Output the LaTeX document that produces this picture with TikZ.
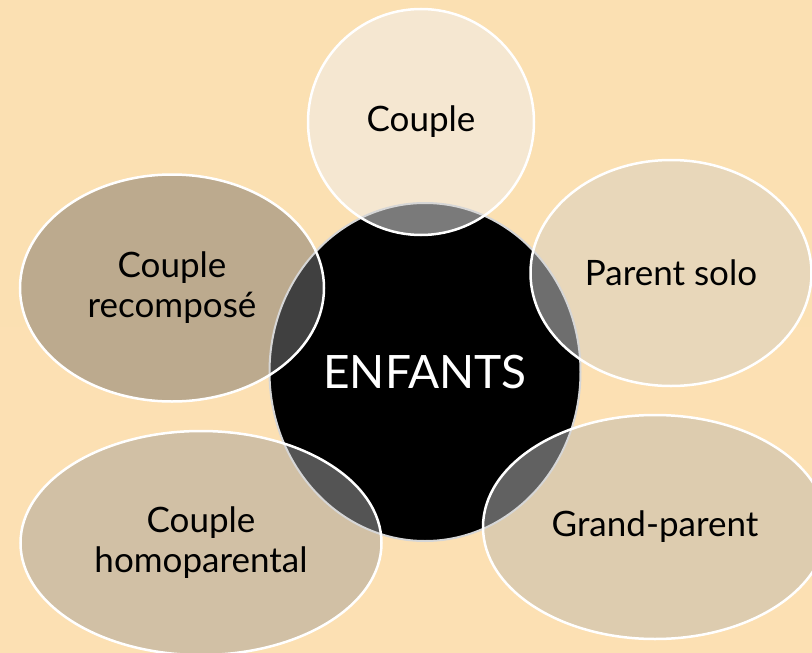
\documentclass[tikz,border=0pt]{standalone}
\usepackage{fontspec}
\setmainfont{Lato}
\usetikzlibrary{shapes.geometric}

\definecolor{bgtop}{HTML}{FBE0B2}
\definecolor{bgmid}{HTML}{F9D69B}
\definecolor{bgbot}{HTML}{FCE0B3}
\definecolor{couplefill}{HTML}{F5E7D1}
\definecolor{solofill}{HTML}{E8D7BA}
\definecolor{grandfill}{HTML}{DDCCAF}
\definecolor{recompfill}{HTML}{BCAA8E}
\definecolor{homofill}{HTML}{D1C0A5}

\tikzset{
  petal/.style={ellipse, inner sep=0pt, align=center, text=black,
                font=\fontsize{35}{40}\selectfont},
  rim/.style={draw=white, line width=2.5pt},
  core rim/.style={draw=black!16, line width=2pt},
}

\begin{document}
\begin{tikzpicture}[x=1pt,y=-1pt]
  \shade[top color=bgtop, middle color=bgmid, bottom color=bgbot] (0,0) rectangle (812,653);
  \useasboundingbox (0,0) rectangle (812,653);

  % family types around the centre
  \node[petal, fill=couplefill, minimum width=226pt, minimum height=226pt] (couple) at (421,122) {Couple};
  \node[petal, fill=solofill, minimum width=281pt, minimum height=226pt] (solo) at (671,273) {Parent solo};
  \node[petal, fill=grandfill, minimum width=344pt, minimum height=224pt] (grand) at (655,527) {Grand-parent};
  \node[petal, fill=homofill, minimum width=361pt, minimum height=224pt] (homo) at (201,543) {Couple\\homoparental};
  \node[petal, fill=recompfill, minimum width=304pt, minimum height=227pt] (recomp) at (172,288) {Couple\\recomposé};

  % centre
  \node[ellipse, fill=black, inner sep=0pt, minimum width=311pt, minimum height=338pt,
        text=white, font=\fontsize{46}{50}\selectfont] (enfants) at (425,372) {ENFANTS};

  % overlaps with the centre
  \foreach \n/\rx/\ry/\g in {couple/113/113/52, solo/140.5/113/57, grand/172/112/62,
                            homo/180.5/112/67, recomp/152/113.5/75}{
    \begin{scope}
      \clip (\n.center) ellipse [x radius=\rx pt, y radius=\ry pt];
      \fill[black!\g] (enfants.center) ellipse [x radius=155.5pt, y radius=169pt];
    \end{scope}
  }
  \draw[core rim] (enfants.center) ellipse [x radius=155.5pt, y radius=169pt];

  \foreach \n/\rx/\ry in {couple/113/113, solo/140.5/113, grand/172/112,
                          homo/180.5/112, recomp/152/113.5}
    \draw[rim] (\n.center) ellipse [x radius=\rx pt, y radius=\ry pt];
\end{tikzpicture}
\end{document}
